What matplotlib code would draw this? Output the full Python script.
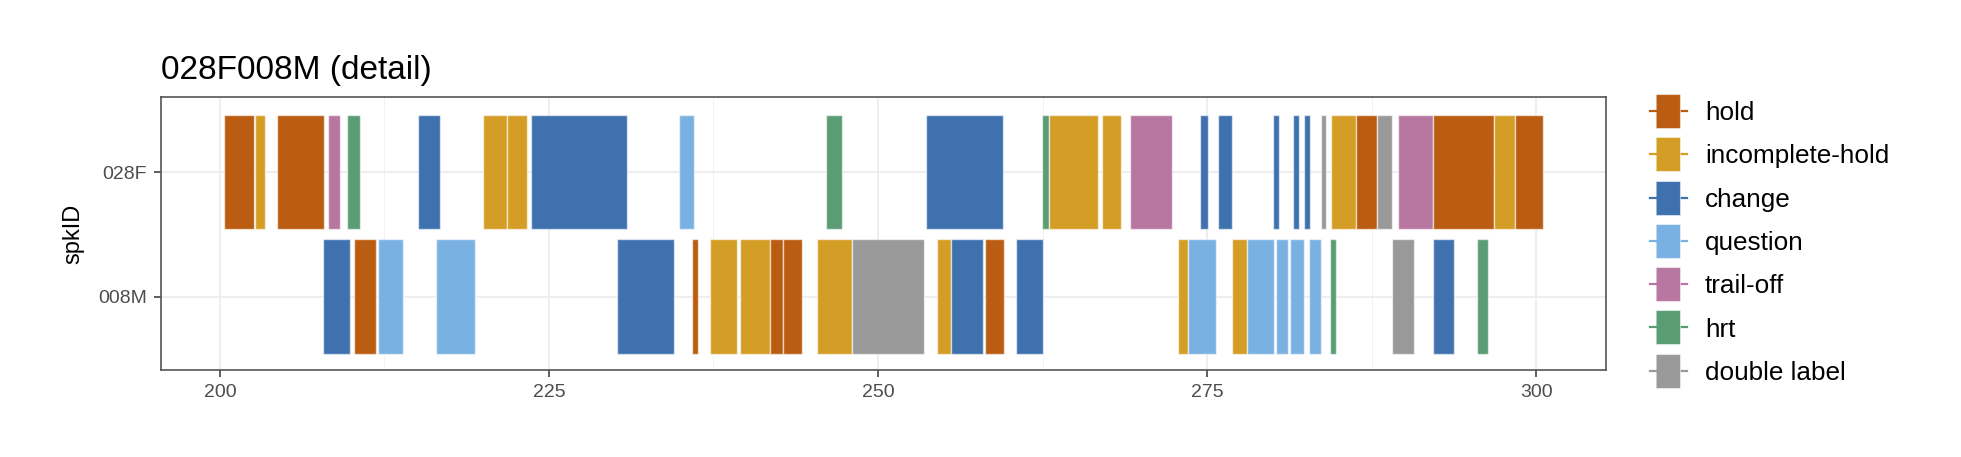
import matplotlib
matplotlib.use("Agg")
import matplotlib.pyplot as plt
from matplotlib.lines import Line2D
from matplotlib.ticker import MultipleLocator

plt.rcParams["font.family"] = ["Liberation Sans", "DejaVu Sans"]

speakers = ["008M", "028F"]

# turns of speaker 028F: start, end, label
f_start = [200.3, 202.65, 204.35, 208.2, 209.65, 215.05, 220.0, 221.85, 223.65, 234.9,
           246.05, 253.65, 262.45, 263.0, 267.0, 269.15, 274.5, 275.85, 280.0, 281.5,
           282.35, 283.65, 284.4, 286.3, 287.95, 289.5, 292.2, 296.8, 298.4]
f_end = [202.6, 203.4, 207.9, 209.1, 210.65, 216.75, 221.85, 223.35, 230.9, 236.0,
         247.25, 259.5, 263.0, 266.75, 268.5, 272.35, 275.05, 276.9, 280.45, 281.95,
         282.85, 284.05, 286.3, 287.95, 289.05, 292.2, 296.8, 298.4, 300.5]
f_label = ["hold", "incomplete-hold", "hold", "trail-off", "hrt", "change",
           "incomplete-hold", "incomplete-hold", "change", "question", "hrt", "change",
           "hrt", "incomplete-hold", "incomplete-hold", "trail-off", "change", "change",
           "change", "change", "change", "double label", "incomplete-hold", "hold",
           "double label", "trail-off", "hold", "incomplete-hold", "hold"]

# turns of speaker 008M
m_start = [207.85, 210.2, 212.05, 216.4, 230.15, 235.9, 237.25, 239.55, 241.8, 242.8,
           245.4, 248.0, 254.45, 255.55, 258.1, 260.5, 272.8, 273.55, 276.9, 278.05,
           280.25, 281.3, 282.75, 284.35, 289.05, 292.15, 295.5]
m_end = [209.9, 211.85, 213.95, 219.4, 234.5, 236.35, 239.3, 241.8, 242.8, 244.2,
         248.0, 253.5, 255.55, 258.0, 259.55, 262.55, 273.55, 275.7, 278.05, 280.05,
         281.15, 282.4, 283.65, 284.8, 290.75, 293.8, 296.35]
m_label = ["change", "hold", "question", "question", "change", "hold",
           "incomplete-hold", "incomplete-hold", "hold", "hold", "incomplete-hold",
           "double label", "incomplete-hold", "change", "hold", "change",
           "incomplete-hold", "question", "incomplete-hold", "question", "question",
           "question", "question", "hrt", "double label", "change", "hrt"]

categories = ["hold", "incomplete-hold", "change", "question", "trail-off", "hrt",
              "double label"]
colors = ["#BB5C13", "#D49D25", "#3E71AE", "#7AB1E3", "#B877A0", "#5A9C74", "#999999"]
palette = dict(zip(categories, colors))

fig = plt.figure(figsize=(9.805, 2.285), dpi=200)
ax = fig.add_axes([0.0819, 0.190, 0.737, 0.597])

rows = {"008M": (m_start, m_end, m_label), "028F": (f_start, f_end, f_label)}
for yi, spk in enumerate(speakers):
    starts, ends, labels = rows[spk]
    widths = [e - s for s, e in zip(starts, ends)]
    ax.barh([yi] * len(starts), widths, left=starts, height=0.92,
            color=[palette[l] for l in labels],
            edgecolor=(1, 1, 1, 0.6), linewidth=0.5, zorder=3)

ax.set_xlim(195.5, 305.3)
ax.set_ylim(-0.59, 1.6)
ax.set_yticks(range(len(speakers)))
ax.set_yticklabels(speakers)
ax.xaxis.set_major_locator(MultipleLocator(25))
ax.xaxis.set_minor_locator(MultipleLocator(12.5))
ax.grid(which="major", color="#EBEBEB", linewidth=0.6, zorder=0)
ax.grid(which="minor", axis="x", color="#F2F2F2", linewidth=0.35, zorder=0)
ax.set_axisbelow(True)
ax.tick_params(which="major", length=2.5, width=0.55, color="#333333",
               labelsize=7, labelcolor="#4D4D4D", pad=2.5)
ax.tick_params(which="minor", length=0)
for s in ax.spines.values():
    s.set_color("#555555")
    s.set_linewidth(0.6)

ax.set_ylabel("spkID", fontsize=8.5, labelpad=5)
ax.set_title("028F008M (detail)", loc="left", fontsize=12, pad=6.5)

handles = [Line2D([0], [0], color=c, linewidth=0.8,
                  marker=[(-0.35, -0.5), (0.35, -0.5), (0.35, 0.5), (-0.35, 0.5)],
                  markersize=12.5, markerfacecolor=c,
                  markeredgecolor=(1, 1, 1, 0.5), markeredgewidth=0.4)
           for c in colors]
fig.legend(handles, categories, loc="upper left",
           bbox_to_anchor=(1650 / 1961, 1 - 101 / 457), frameon=False,
           fontsize=9.4, handlelength=1.4, handletextpad=0.7,
           labelspacing=0.74, borderpad=0, borderaxespad=0)

fig.savefig("out.png", dpi=200)
